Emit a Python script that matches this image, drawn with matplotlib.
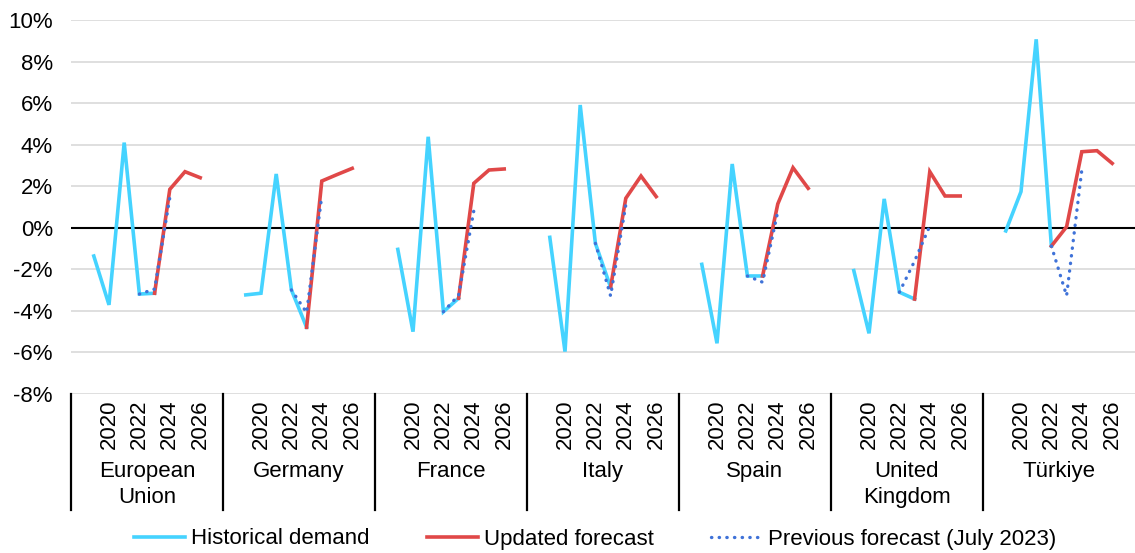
import matplotlib
matplotlib.use("Agg")
import matplotlib.pyplot as plt
import matplotlib.transforms as mtransforms

plt.rcParams['font.family'] = ['Liberation Sans', 'DejaVu Sans']

# Data (annual change in demand, %)
countries = ["European\nUnion", "Germany", "France", "Italy", "Spain",
             "United\nKingdom", "Türkiye"]
slot_years = list(range(2018, 2028))   # 10 slots per country, first/last left empty
label_years = [2020, 2022, 2024, 2026]

hist_start = [2019] * 7
historical = [
    [-1.36, -3.71, 4.10, -3.19, -3.15],
    [-3.23, -3.15, 2.59, -2.99, -4.79],
    [-1.04, -5.00, 4.38, -4.04, -3.39],
    [-0.46, -5.96, 5.91, -0.75, -2.86],
    [-1.76, -5.56, 3.07, -2.32, -2.32],
    [-2.06, -5.08, 1.39, -3.10, -3.43],
    [-0.15, 1.74, 9.07, -0.88],
]

updated_start = [2023, 2023, 2023, 2023, 2023, 2023, 2022]
updated = [
    [-3.15, 1.85, 2.70, 2.41],
    [-4.79, 2.25, 2.56, 2.86],
    [-3.39, 2.14, 2.78, 2.83],
    [-2.86, 1.42, 2.49, 1.50],
    [-2.32, 1.15, 2.89, 1.90],
    [-3.43, 2.70, 1.53, 1.53],
    [-0.88, 0.05, 3.66, 3.71, 3.10],
]

prev_start = [2022] * 7
previous = [
    [-3.19, -2.95, 1.45],
    [-2.99, -4.08, 1.53],
    [-4.04, -3.25, 0.82],
    [-0.75, -3.28, 1.10],
    [-2.32, -2.62, 0.78],
    [-3.10, -1.60, 0.09],
    [-0.88, -3.27, 2.78],
]

yticks = [-8, -6, -4, -2, 0, 2, 4, 6, 8, 10]

c_hist = '#45D3FF'
c_upd = '#E04848'
c_prev = '#3F72D8'
fs = 16

W, H = 1135, 553
fig = plt.figure(figsize=(W / 100, H / 100), dpi=100)
ax = fig.add_axes([71 / W, 1 - 394 / H, 1 - 71 / W, (394 - 20) / H])

n = len(slot_years)


def xpos(g, year):
    return g * n + slot_years.index(year)


for g in range(len(countries)):
    xs = [xpos(g, hist_start[g] + i) for i in range(len(historical[g]))]
    l1, = ax.plot(xs, historical[g], color=c_hist, lw=2.6, zorder=3,
                  solid_joinstyle='miter')
    xs = [xpos(g, updated_start[g] + i) for i in range(len(updated[g]))]
    l2, = ax.plot(xs, updated[g], color=c_upd, lw=2.6, zorder=4,
                  solid_joinstyle='miter')
    xs = [xpos(g, prev_start[g] + i) for i in range(len(previous[g]))]
    l3, = ax.plot(xs, previous[g], color=c_prev, lw=2.4,
                  ls=(0, (0.1, 2.2)), dash_capstyle='round', zorder=5)

ax.set_xlim(-0.5, len(countries) * n - 0.5)
ax.set_ylim(-8, 10)
ax.set_yticks(yticks)
ax.set_yticklabels([f"{v}%" for v in yticks])
ax.yaxis.grid(True, color='#D9D9D9', lw=1.2)
ax.set_axisbelow(True)
ax.axhline(0, color='black', lw=1.5, zorder=2)
for s in ax.spines.values():
    s.set_visible(False)

ticks = [xpos(g, y) for g in range(len(countries)) for y in label_years]
ax.set_xticks(ticks)
ax.set_xticklabels([str(y) for g in range(len(countries)) for y in label_years],
                   rotation=90, va='top')
ax.tick_params(axis='x', length=0, pad=4, labelsize=fs)
ax.tick_params(axis='y', length=0, pad=13, labelsize=fs)

trans = mtransforms.blended_transform_factory(ax.transData, ax.transAxes)
for g, name in enumerate(countries):
    ax.plot([g * n - 0.5] * 2, [0, -(510 - 394) / 374], color='black', lw=1.6,
            transform=trans, clip_on=False)
    ax.text(g * n + (n - 1) / 2, -(461 - 394) / 374, name, transform=trans,
            ha='center', va='top', fontsize=fs, linespacing=1.3,
            multialignment='center')

fig.legend([l1, l2, l3],
           ["Historical demand", "Updated forecast", "Previous forecast (July 2023)"],
           loc='center', bbox_to_anchor=(595 / W, 1 - 539 / H), ncol=3,
           frameon=False, fontsize=fs, handlelength=2.3, handletextpad=0.25,
           columnspacing=2.6)

fig.savefig('out.png', dpi=100)
